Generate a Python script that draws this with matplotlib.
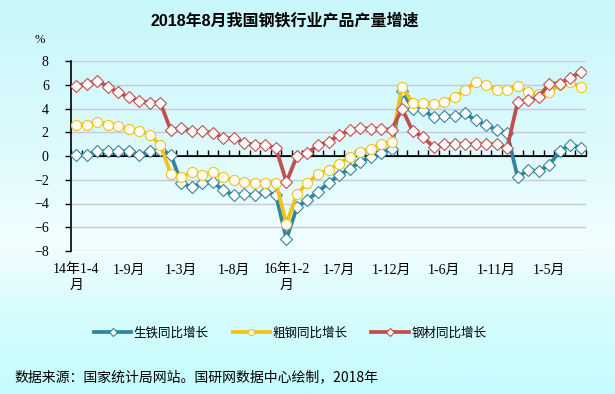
import matplotlib
matplotlib.use("Agg")
import matplotlib.pyplot as plt
import numpy as np
from matplotlib.colors import LinearSegmentedColormap

plt.rcParams['font.family'] = ['Liberation Serif', 'Noto Sans CJK SC', 'DejaVu Sans']
plt.rcParams['axes.unicode_minus'] = True

title = "2018年8月我国钢铁行业产品产量增速"
source = "数据来源：国家统计局网站。国研网数据中心绘制，2018年"
series_names = ["生铁同比增长", "粗钢同比增长", "钢材同比增长"]

tick_labels = ["14年1-4\n月", "1-9月", "1-3月", "1-8月", "16年1-2\n月",
               "1-7月", "1-12月", "1-6月", "1-11月", "1-5月"]

pig_iron = [0.1, 0.1, 0.4, 0.4, 0.4, 0.4, 0.1, 0.4, 0.5, 0.1,
            -2.3, -2.6, -2.3, -2.2, -2.9, -3.3, -3.2, -3.3, -3.0, -3.3,
            -7.0, -4.3, -3.7, -3.0, -2.3, -1.6, -1.1, -0.5, -0.1, 0.25,
            0.6, 5.5, 4.0, 3.9, 3.25, 3.35, 3.35, 3.6, 3.0, 2.6,
            2.2, 1.9, -1.8, -1.15, -1.3, -0.75, 0.4, 0.95, 0.7]

crude_steel = [2.65, 2.65, 2.9, 2.65, 2.5, 2.25, 2.1, 1.8, 0.9, -1.5,
               -1.8, -1.35, -1.6, -1.35, -1.8, -2.05, -2.2, -2.25, -2.25, -2.3,
               -5.7, -3.2, -2.3, -1.5, -1.15, -0.65, -0.1, 0.35, 0.6, 1.0,
               1.15, 5.8, 4.5, 4.5, 4.4, 4.55, 5.0, 5.55, 6.25, 6.0,
               5.55, 5.55, 5.9, 5.35, 5.2, 5.35, 6.1, 6.25, 5.8]

steel_products = [5.9, 6.1, 6.35, 5.85, 5.35, 4.95, 4.65, 4.5, 4.5, 2.15,
                  2.4, 2.1, 2.1, 1.95, 1.5, 1.5, 1.1, 0.95, 0.95, 0.65,
                  -2.2, 0.0, 0.25, 0.9, 1.2, 1.75, 2.15, 2.35, 2.3, 2.3,
                  2.2, 4.0, 2.1, 1.6, 0.75, 1.0, 1.0, 1.0, 1.0, 1.0,
                  1.0, 0.7, 4.55, 4.7, 4.95, 6.1, 6.1, 6.6, 7.05]

colors = ["#31859C", "#F2C21A", "#C0504D"]
markers = ["D", "o", "D"]

fig = plt.figure(figsize=(6.15, 3.94), dpi=100)

# background gradient
bg = fig.add_axes([0, 0, 1, 1], zorder=-10)
cmap = LinearSegmentedColormap.from_list(
    "bg", [(0.0, "#C8F7FA"), (0.35, "#DCFAFD"), (0.62, "#F2FEFF"), (0.8, "#D6FCFD"), (1.0, "#C4FCFD")])
grad = np.linspace(0, 1, 256).reshape(-1, 1)
bg.imshow(grad, aspect="auto", cmap=cmap, extent=[0, 1, 0, 1], origin="upper")
bg.axis("off")

ax = fig.add_axes([71/615, 1-251/394, (586-71)/615, (251-61)/394])
ax.set_facecolor("none")

n = len(pig_iron)
x = np.arange(n)
data = [pig_iron, crude_steel, steel_products]
for i, (vals, c, m, name) in enumerate(zip(data, colors, markers, series_names)):
    ms = 6.3 if m == "D" else 7.2
    ax.plot(x, vals, color=c, lw=2.7, marker=m, ms=ms, mfc="white", mec=c,
            mew=0.8, label=name, zorder=3 + i)

ax.set_xlim(-0.5, n - 0.5)
ax.set_ylim(-8, 8)
ax.set_yticks(np.arange(-8, 9, 2))
ax.tick_params(axis="y", direction="out", length=4, width=1, labelsize=10, pad=12)
for yv in [-8, -6, -4, -2, 2, 4, 6, 8]:
    ax.axhline(yv, color="#C4CADC", lw=1, zorder=1)
ax.axhline(0, color="black", lw=1.2, zorder=2)

ax.set_xticks(np.arange(0, n, 5))
ax.set_xticklabels(tick_labels, fontsize=10, linespacing=1.25)
ax.tick_params(axis="x", length=0, pad=9)

for s in ["top", "right", "bottom"]:
    ax.spines[s].set_visible(False)
ax.spines["left"].set_linewidth(1.2)

sec = ax.secondary_xaxis(0.5)
sec.set_xticks(np.arange(-0.5, n, 1))
sec.tick_params(axis="x", direction="out", length=4, width=1, labelbottom=False)
sec.set_xticklabels([])
sec.spines["bottom"].set_visible(False)

fig.text(285/615, 1-21/394, title, ha="center", va="center", fontsize=11.5,
         fontweight="bold", family=["Liberation Sans", "Noto Sans CJK SC"])
fig.text(40/615, 1-40/394, "%", ha="center", va="center", fontsize=9)
fig.text(14/615, 1-377/394, source, ha="left", va="center", fontsize=10,
         family=["Noto Sans CJK SC"])

fig.legend(loc="center", bbox_to_anchor=(290/615, 1-333/394), ncol=3, frameon=False,
           prop={"family": "Noto Sans CJK SC", "size": 9}, handlelength=3.0,
           handletextpad=0.2, columnspacing=1.9, numpoints=1, markerscale=0.6)

fig.savefig("out.png", dpi=100)
